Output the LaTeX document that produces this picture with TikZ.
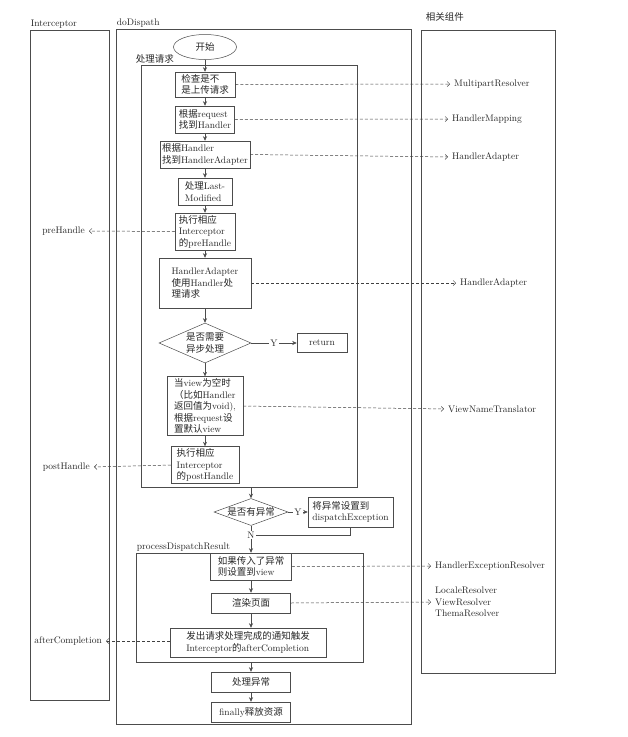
\documentclass[tikz,border=0pt]{standalone}
\usepackage{fontspec}
\newfontfamily\cjk{Noto Sans CJK SC}
\newcommand\zh[1]{{\cjk #1}}
\usepackage{tikz}
\usetikzlibrary{arrows.meta,positioning,shapes.geometric,fit}

\begin{document}
\begin{tikzpicture}[x=1pt, y=-1pt, >={Stealth[length=4.5pt,width=4pt]},
  every node/.style={font=\fontsize{9.5}{11.5}\selectfont, text=black!85},
  lane/.style={draw=black!70, line width=0.5pt, inner sep=0pt},
  title/.style={anchor=south west, inner sep=1pt},
  stepbox/.style={draw=black!70, line width=0.5pt, align=left, inner sep=2pt},
  decide/.style={draw=black!70, line width=0.5pt, diamond, aspect=2.3, inner sep=0pt, align=center},
  flow/.style={draw=black!70, line width=0.5pt},
  dep/.style={draw=black!75, line width=0.5pt, dash pattern=on 3pt off 2pt, shorten >=2pt, -{Straight Barb[length=2.5pt,width=5pt]}},
  comp/.style={inner sep=2pt, align=left}]
\useasboundingbox (0,0) rectangle (628,737);

% lanes
\node[lane, fit={(30,30) (109,700)}, label={[title]north west:Interceptor}] (icp) {};
\node[lane, fit={(116,29) (411,724)}, label={[title]north west:doDispath}] (disp) {};
\node[lane, fit={(421,30) (555,673)}, label={[title, xshift=4pt, yshift=7pt]north west:\zh{相关组件}}] (rel) {};
\node[lane, fit={(141,65) (357,487)}, label={[title, xshift=-6pt]north west:\zh{处理请求}}] (reqbox) {};
\node[lane, fit={(136,553) (363,662)}, label={[title]north west:processDispatchResult}] (pdr) {};

% handle request
\node[draw=black!70, line width=0.5pt, ellipse, minimum width=63pt, minimum height=25pt, inner sep=0pt] (start) at (205,47) {\zh{开始}};
\node[stepbox, minimum width=60pt, minimum height=25pt] (chk) at (205,84.5) {\zh{检查是不}\\\zh{是上传请求}};
\node[stepbox, minimum width=59pt, minimum height=27pt] (findh) at (205,119.5) {\zh{根据}request\\\zh{找到}Handler};
\node[stepbox, minimum width=86pt, minimum height=27pt] (finda) at (205,154.5) {\zh{根据}Handler\\\zh{找到}HandlerAdapter};
\node[stepbox, minimum width=54pt, minimum height=27pt] (lastmod) at (205,191.5) {\zh{处理}Last-\\Modified};
\node[stepbox, minimum width=60pt, minimum height=37pt] (pre) at (205,231.5) {\zh{执行相应}\\Interceptor\\\zh{的}preHandle};
\node[stepbox, minimum width=92pt, minimum height=50pt] (handle) at (205,283) {HandlerAdapter\\\zh{使用}Handler\zh{处}\\\zh{理请求}};
\node[decide, minimum width=92pt, minimum height=40pt] (async) at (205,343) {\zh{是否需要}\\\zh{异步处理}};
\node[stepbox, minimum width=50pt, minimum height=19pt, align=center] (ret) at (322,343) {return};
\node[stepbox, minimum width=76pt, minimum height=58pt] (view) at (205,406) {\zh{当}view\zh{为空时}\\\zh{（比如}Handler\\\zh{返回值为}void),\\\zh{根据}request\zh{设}\\\zh{置默认}view};
\node[stepbox, minimum width=68pt, minimum height=36pt] (post) at (205,465) {\zh{执行相应}\\Interceptor\\\zh{的}postHandle};

% exception check
\node[decide, minimum width=74pt, minimum height=27pt, aspect=2.7] (err) at (251,512) {\zh{是否有异常}};
\node[stepbox, minimum width=85pt, minimum height=30pt] (setex) at (350.5,512) {\zh{将异常设置到}\\dispatchException};

% process dispatch result
\node[stepbox, minimum width=81pt, minimum height=27pt] (setview) at (251,566.5) {\zh{如果传入了异常}\\\zh{则设置到}view};
\node[stepbox, minimum width=79pt, minimum height=20pt, align=center] (render) at (251,603) {\zh{渲染页面}};
\node[stepbox, minimum width=156pt, minimum height=29pt] (after) at (248,642.5) {\zh{发出请求处理完成的通知触发}\\Interceptor\zh{的}afterCompletion};
\node[stepbox, minimum width=79pt, minimum height=20pt, align=center] (handleex) at (251,682) {\zh{处理异常}};
\node[stepbox, minimum width=79pt, minimum height=20pt, align=center] (final) at (251,712) {finally\zh{释放资源}};

% components
\node[comp, anchor=west] (mpr) at (452,84) {MultipartResolver};
\node[comp, anchor=west] (hmap) at (450,119) {HandlerMapping};
\node[comp, anchor=west] (hada) at (450,157) {HandlerAdapter};
\node[comp, anchor=west] (hadb) at (458,283) {HandlerAdapter};
\node[comp, anchor=west] (vnt) at (446,409) {ViewNameTranslator};
\node[comp, anchor=west] (her) at (433,566) {HandlerExceptionResolver};
\node[comp, anchor=west] (vres) at (433,602) {LocaleResolver\\ViewResolver\\ThemaResolver};
\node[comp, anchor=east] (preh) at (87,231) {preHandle};
\node[comp, anchor=east] (posth) at (92,467) {postHandle};
\node[comp, anchor=east] (afterc) at (104,641) {afterCompletion};

% flow
\draw[flow, ->] (start) -- (chk);
\draw[flow, ->] (chk) -- (findh);
\draw[flow, ->] (findh) -- (finda);
\draw[flow, ->] (finda) -- (lastmod);
\draw[flow, ->] (lastmod) -- (pre);
\draw[flow, ->] (pre) -- (handle);
\draw[flow, ->] (handle) -- (async);
\draw[flow, ->] (async) -- node[fill=white, inner sep=1pt] {Y} (ret);
\draw[flow, ->] (async) -- (view);
\draw[flow, ->] (view) -- (post);
\draw[flow, ->] (reqbox.south -| err.north) -- (err.north);
\draw[flow, ->] (err) -- node[fill=white, inner sep=1pt] {Y} (setex);
\draw[flow, ->] (err.south) -- node[pos=0.35, fill=white, inner sep=1pt] (no) {N} (setview.north);
\draw[flow] (setex.south) |- (no.east);
\draw[flow, ->] (setview) -- (render);
\draw[flow, ->] (render.south) -- (render.south |- after.north);
\draw[flow, ->] (pdr.south -| handleex.north) -- (handleex.north);
\draw[flow, ->] (handleex) -- (final);

% dependencies
\draw[dep] (chk.east) -- (mpr.west);
\draw[dep] (findh.east) -- (hmap.west);
\draw[dep] (finda.east) -- (hada.west);
\draw[dep] (handle.east) -- (hadb.west);
\draw[dep] (view.east) -- (vnt.west);
\draw[dep] (setview.east) -- (her.west);
\draw[dep] (render.east) -- (vres.west);
\draw[dep] (pre.west) -- (preh.east);
\draw[dep] (post.west) -- (posth.east);
\draw[dep] (after.west |- afterc.east) -- (afterc.east);
\end{tikzpicture}
\end{document}
